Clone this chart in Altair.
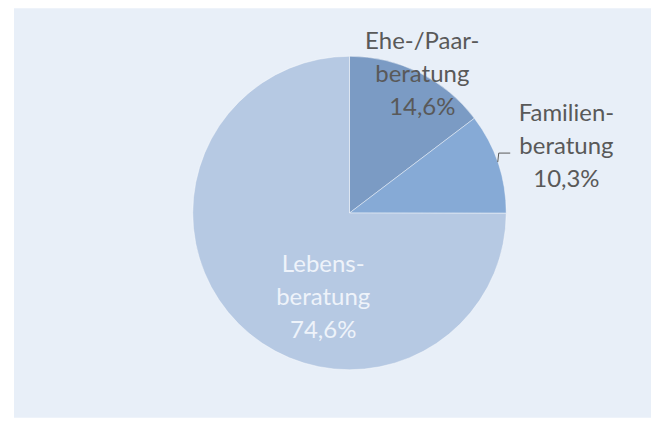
import altair as alt
import pandas as pd

categories = ["Ehe-/Paar-\nberatung", "Familien-\nberatung", "Lebens-\nberatung"]
values = [14.6, 10.3, 74.6]
labels = ["14,6%", "10,3%", "74,6%"]
order = [0, 1, 2]
colors = ["#7b9bc4", "#86aad6", "#b6c9e3"]

df = pd.DataFrame({
    "cat": categories,
    "value": values,
    "label": [c + "\n" + l for c, l in zip(categories, labels)],
    "order": order,
})

CX, CY, R = 336, 205, 157

arcs = alt.Chart(df).mark_arc(outerRadius=R, stroke="#ffffff", strokeWidth=0.6, strokeOpacity=0.7).encode(
    theta=alt.Theta("value:Q", stack=True),
    order=alt.Order("order:Q"),
    color=alt.Color("cat:N", scale=alt.Scale(domain=categories, range=colors), legend=None),
    x=alt.value(CX), y=alt.value(CY),
)

# mid-angle of each slice (radians), computed from the data before filtering
lab_base = alt.Chart(df).transform_window(
    cum="sum(value)", sort=[alt.SortField("order")], frame=[None, 0]
).transform_joinaggregate(
    total="sum(value)"
).transform_calculate(
    mid="(datum.cum - datum.value / 2) / datum.total * 2 * PI"
)

def label(idx, radius, dx, dy, color):
    return lab_base.transform_filter(
        alt.datum.order == idx
    ).mark_text(
        font="Lato", fontSize=24, lineBreak="\n", lineHeight=33,
        align="center", baseline="middle", color=color, dx=dx, dy=dy,
    ).encode(
        theta=alt.Theta("mid:Q", scale=None, stack=False),
        text="label:N", radius=alt.value(radius), x=alt.value(CX), y=alt.value(CY),
    )

t1 = label(0, 155, 4, -32, "#595959")
t2 = label(1, 226, 3, -27, "#595959")
t3 = label(2, 88, 36, -10, "#eef3fa")

lead1 = alt.Chart(df).mark_rule(color="#595959", strokeWidth=1).encode(
    x=alt.value(484.5), x2=alt.value(485.5), y=alt.value(154), y2=alt.value(145)
).transform_filter(alt.datum.order == 1)
lead2 = alt.Chart(df).mark_rule(color="#595959", strokeWidth=1).encode(
    x=alt.value(485.5), x2=alt.value(497), y=alt.value(145), y2=alt.value(145)
).transform_filter(alt.datum.order == 1)

chart = alt.layer(arcs, t1, t2, t3, lead1, lead2).properties(
    width=638, height=410,
    autosize=alt.AutoSizeParams(type="none"),
    padding={"left": 6, "top": 0, "right": 0, "bottom": 0},
    background="#ffffff",
).configure_view(fill="#e8eff8", strokeWidth=0)

chart.save("out.html", embed_options={"renderer": "svg", "actions": False})
